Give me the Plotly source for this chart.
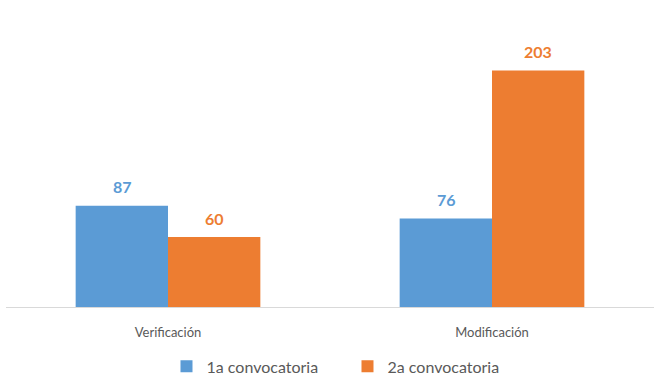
import plotly.graph_objects as go

categories = ["Verificación", "Modificación"]
series_names = ["1a convocatoria", "2a convocatoria"]
values_1a = [87, 76]
values_2a = [60, 203]
colors = ["#5B9BD5", "#ED7D31"]

FONT = "Lato, Open Sans, sans-serif"

fig = go.Figure()
for name, vals, col in zip(series_names, [values_1a, values_2a], colors):
    fig.add_trace(go.Bar(x=categories, y=vals, name=name, marker=dict(color=col, line=dict(width=0))))

# data labels
for vals, col, xs in zip([values_1a, values_2a], colors, [-46, 46]):
    for c, v in zip(categories, vals):
        fig.add_annotation(x=c, y=v, text=f"<b>{v}</b>", showarrow=False, xshift=xs, yshift=19,
                           yanchor="middle", font=dict(family=FONT, size=16, color=col))

fig.update_layout(
    width=668, height=389,
    margin=dict(l=6, r=14, t=20, b=79),
    paper_bgcolor="white", plot_bgcolor="white",
    barmode="group", bargap=0.43, bargroupgap=0,
    font=dict(family=FONT, color="#595959"),
    showlegend=True,
    legend=dict(orientation="h", x=0.527, xanchor="center", y=-0.207, yanchor="middle",
                font=dict(family=FONT, size=16, color="#595959"), entrywidth=136,
                itemwidth=30),
)
fig.update_xaxes(showline=True, linecolor="#D9D9D9", linewidth=1, showgrid=False,
                 tickfont=dict(family=FONT, size=13, color="#595959"), ticklabelstandoff=13)
fig.update_yaxes(range=[0, 246.4], visible=False, showgrid=False, zeroline=False)

fig.write_html("out.html", config={"displayModeBar": False},
               post_script="document.body.style.margin='0';")
